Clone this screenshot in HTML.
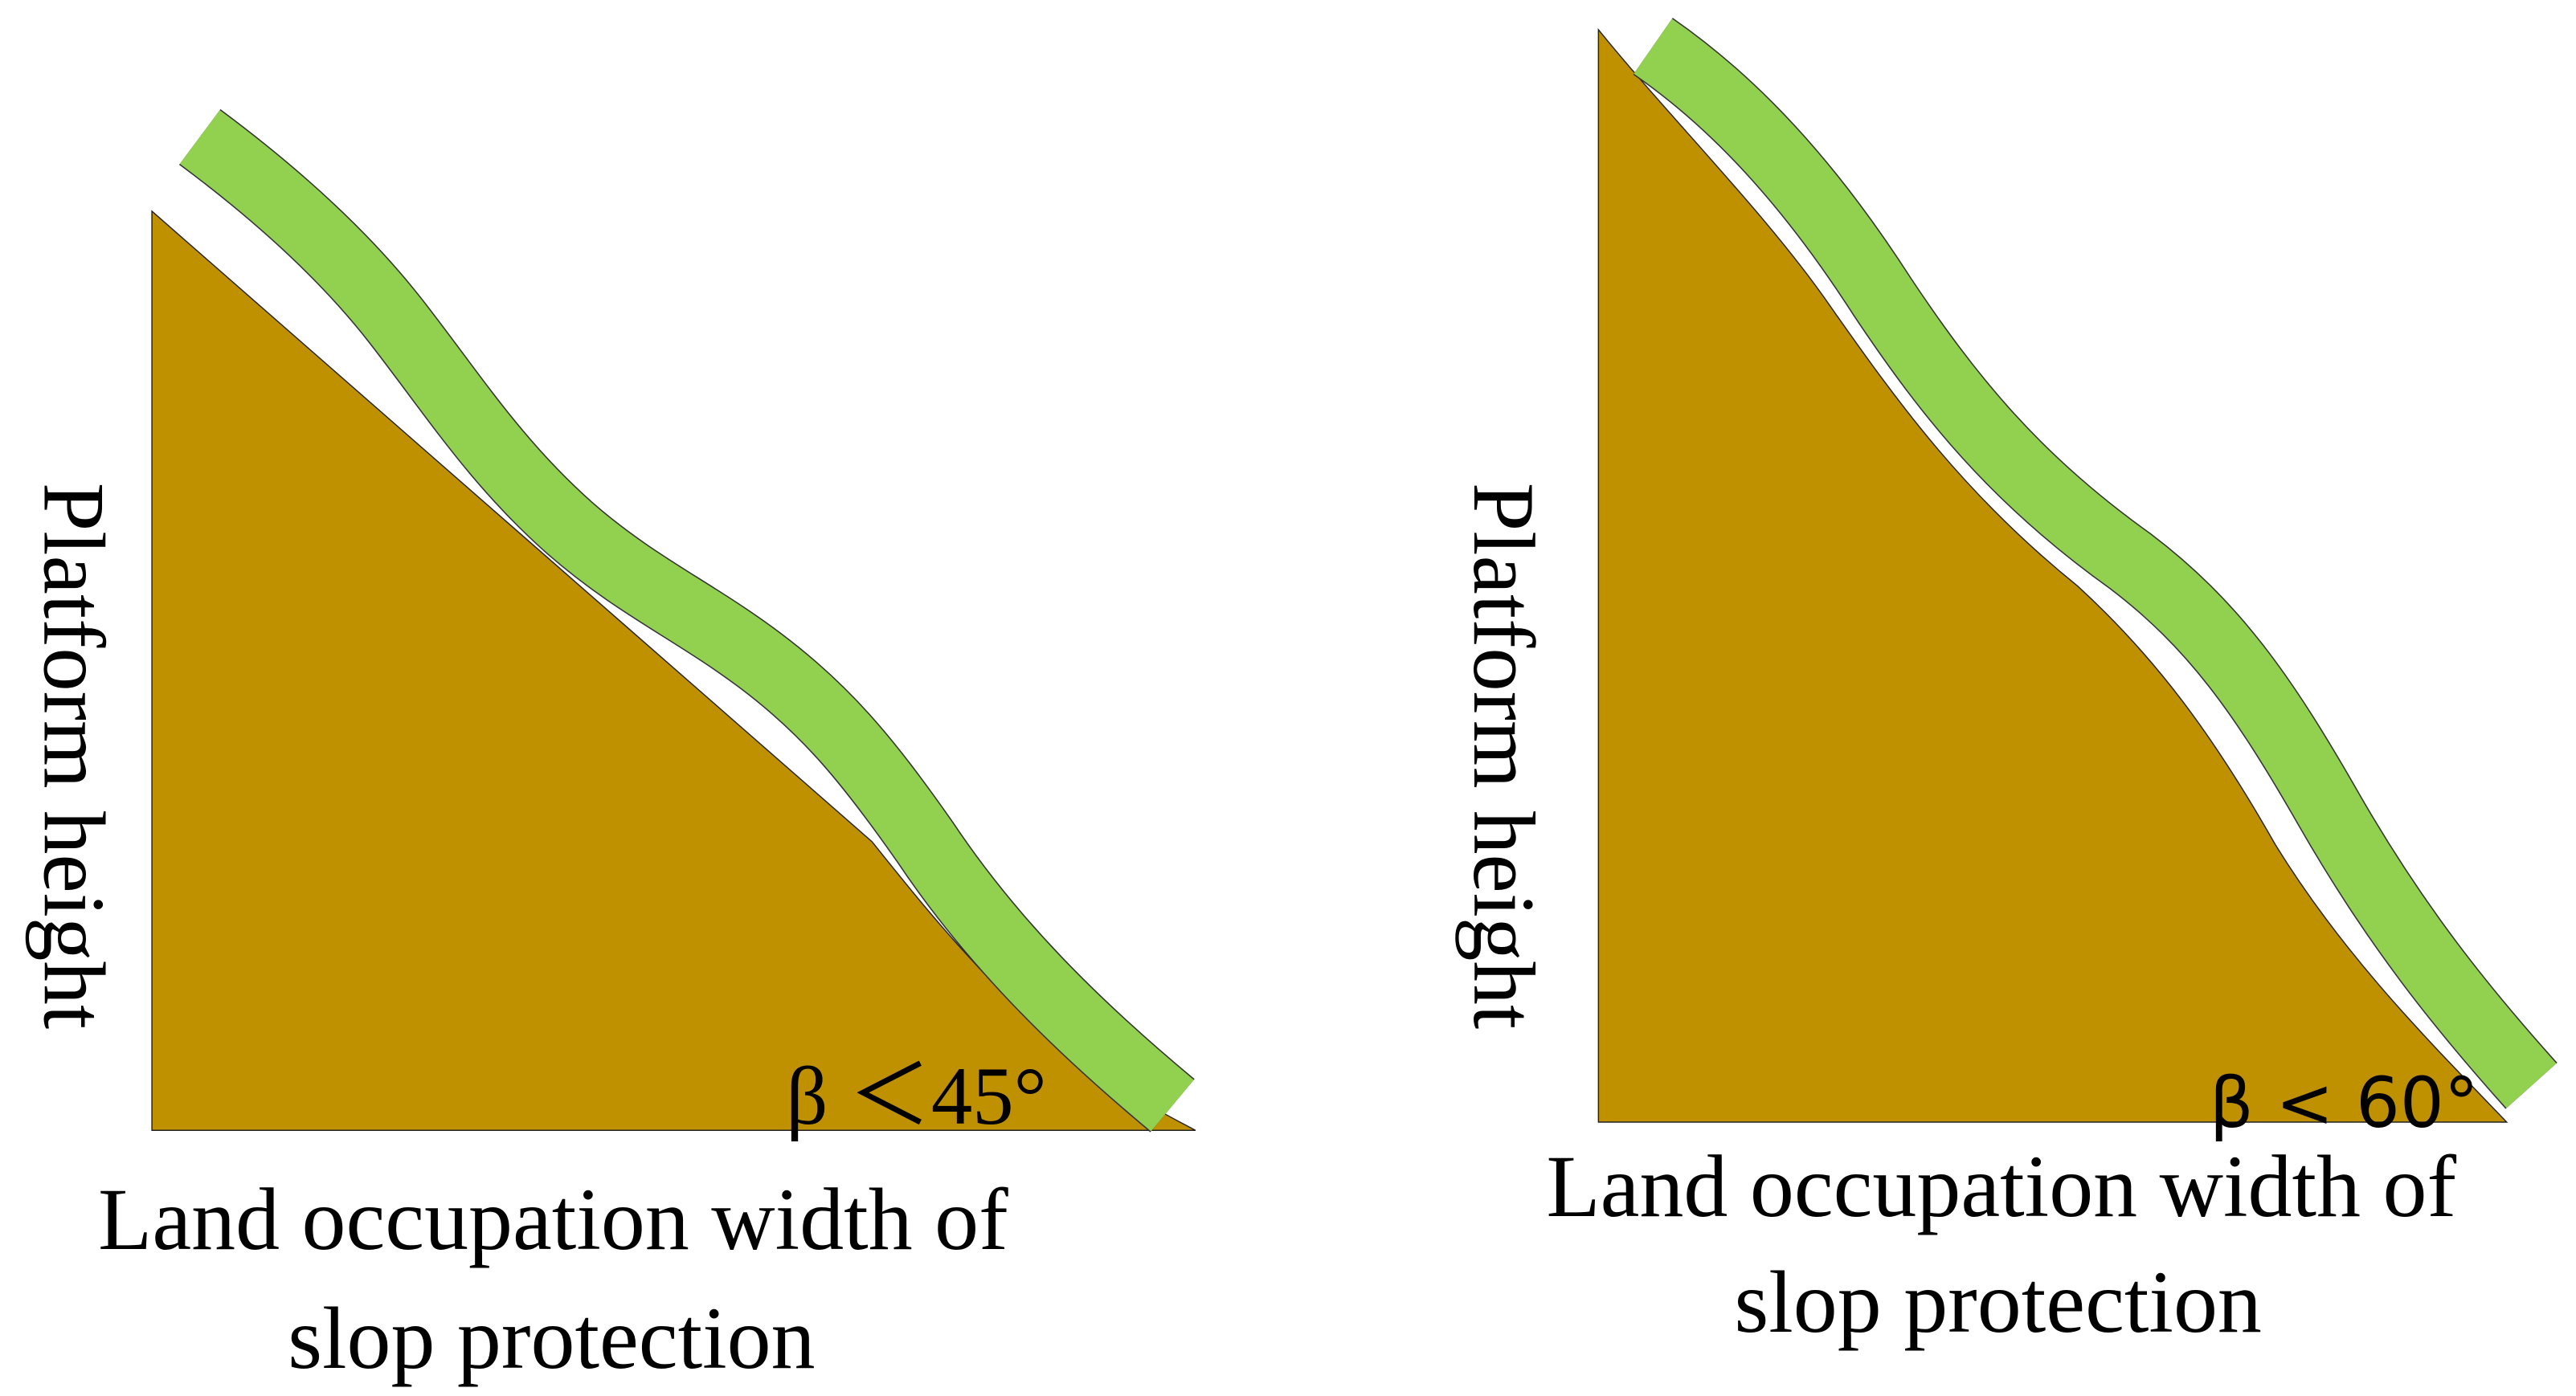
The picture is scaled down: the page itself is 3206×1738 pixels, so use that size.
<!DOCTYPE html>
<html><head><meta charset="utf-8"><style>
html,body{margin:0;padding:0;background:#fff;}
svg{display:block;}
text{font-family:"Liberation Serif",serif;fill:#000;}
</style></head><body>
<svg width="3206" height="1738" viewBox="0 0 1560 846" preserveAspectRatio="none" xmlns="http://www.w3.org/2000/svg">
<g>
<path d="M92,128 L528,510 C560,550 600,600 650,640 C680,662 705,675 724,685 L92,685 Z" fill="#bf9000" stroke="#222" stroke-width="0.7"/>
<path d="M121,83 C160,112 205,150 240,195 C275,240 300,280 345,320 C385,355 420,370 460,400 C500,430 525,460 560,510 C600,570 650,620 710,670" fill="none" stroke="#333" stroke-width="42" stroke-linecap="butt"/>
<path d="M121,83 C160,112 205,150 240,195 C275,240 300,280 345,320 C385,355 420,370 460,400 C500,430 525,460 560,510 C600,570 650,620 710,670" fill="none" stroke="#92d050" stroke-width="40.5" stroke-linecap="butt"/>
<text transform="translate(27,458) rotate(90)" text-anchor="middle" font-size="53">Platform height</text>
<text x="476" y="681" font-size="50">β ＜45°</text>
<text x="335" y="757" text-anchor="middle" font-size="53.5">Land occupation width of</text>
<text x="334" y="829" text-anchor="middle" font-size="53.5">slop protection</text>
</g>
<g>
<path d="M968,18 C1010,70 1070,130 1108,185 C1150,245 1190,300 1258,355 C1305,398 1340,445 1378,512 C1420,580 1470,630 1518,680 L968,680 Z" fill="#bf9000" stroke="#222" stroke-width="0.7"/>
<path d="M1001,28 C1050,62 1095,110 1140,180 C1180,240 1220,290 1290,340 C1340,378 1370,420 1410,490 C1450,560 1490,610 1533,658" fill="none" stroke="#333" stroke-width="42" stroke-linecap="butt"/>
<path d="M1001,28 C1050,62 1095,110 1140,180 C1180,240 1220,290 1290,340 C1340,378 1370,420 1410,490 C1450,560 1490,610 1533,658" fill="none" stroke="#92d050" stroke-width="40.5" stroke-linecap="butt"/>
<text transform="translate(893,458) rotate(90)" text-anchor="middle" font-size="53">Platform height</text>
<text x="1338" y="683" font-size="42" style="font-family:'DejaVu Sans','Liberation Sans',sans-serif">β &lt; 60°</text>
<text x="1212" y="737" text-anchor="middle" font-size="53.5">Land occupation width of</text>
<text x="1210" y="807" text-anchor="middle" font-size="53.5">slop protection</text>
</g>
</svg>
</body></html>
